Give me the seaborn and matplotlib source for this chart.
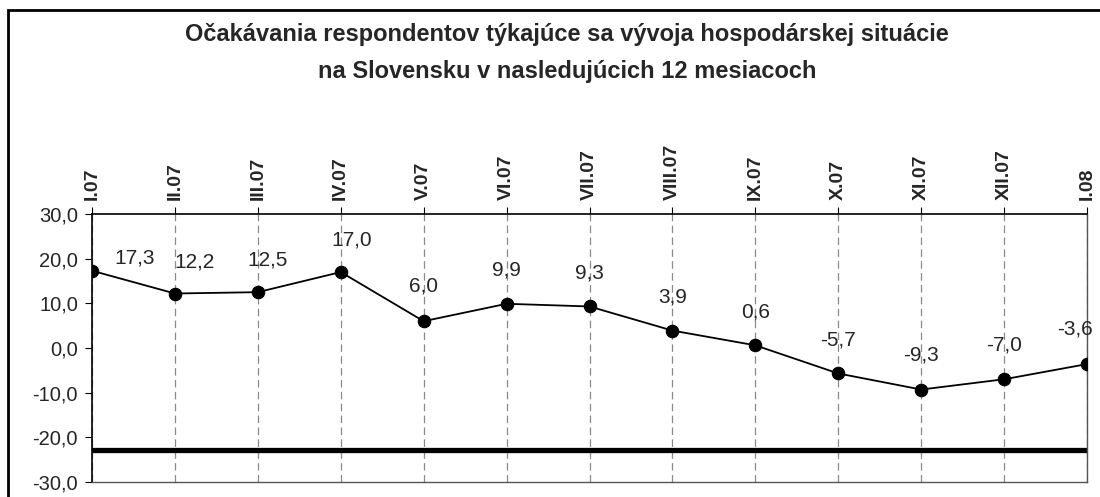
"""
Expectations of respondents about the economic situation in Slovakia
"""

import matplotlib.pyplot as plt
import numpy as np
import pandas as pd
import seaborn as sns
from matplotlib.patches import Rectangle

months = ["I.07", "II.07", "III.07", "IV.07", "V.07", "VI.07", "VII.07",
          "VIII.07", "IX.07", "X.07", "XI.07", "XII.07", "I.08"]
values = [17.3, 12.2, 12.5, 17.0, 6.0, 9.9, 9.3, 3.9, 0.6, -5.7, -9.3, -7.0, -3.6]
baseline = -22.8
y_ticks = [-30, -20, -10, 0, 10, 20, 30]
title = ("Očakávania respondentov týkajúce sa vývoja hospodárskej situácie\n"
         "na Slovensku v nasledujúcich 12 mesiacoch")

# nudges of the value labels (points)
label_dx = [31, 14, 7, 8, 0, 0, 0, 0, 0, 0, 0, 0, -9]
label_dy = [9, 23, 23, 23, 25, 24, 24, 24, 24, 24, 25, 25, 25]

sns.set_theme(style="white")
plt.rcParams["font.family"] = ["Liberation Sans", "DejaVu Sans"]

df = pd.DataFrame({"idx": np.arange(len(months)), "value": values})

fig = plt.figure(figsize=(11, 4.97), dpi=100)
ax = fig.add_axes([92 / 1100, 1 - 482 / 497, (1087 - 92) / 1100, (482 - 214) / 497])

for i in range(len(months)):
    ax.axvline(i, color="#8a8a8a", lw=0.9, ls=(0, (6, 3.5)), zorder=0)

sns.lineplot(data=df, x="idx", y="value", ax=ax, color="black", lw=1.3,
             marker="o", markersize=9, markeredgecolor="black", zorder=3)
ax.axhline(baseline, color="black", lw=3.8, zorder=2)

for i, v in enumerate(values):
    ax.annotate(f"{v:.1f}".replace(".", ","), (i, v), xytext=(label_dx[i], label_dy[i]),
                textcoords="offset points", ha="center", va="center", fontsize=15)

ax.set_xlim(0, len(months) - 1)
ax.set_ylim(-30, 30)
ax.set_yticks(y_ticks)
ax.set_yticklabels([f"{t:.1f}".replace(".", ",") for t in y_ticks], fontsize=14.5)
ax.set_xticks(range(len(months)))
ax.set_xticklabels(months, rotation=90, fontsize=14, fontweight="bold")
ax.xaxis.tick_top()
ax.tick_params(axis="both", direction="out", length=5, width=0.8, color="black", pad=5)
ax.tick_params(axis="x", bottom=False, top=True)
ax.tick_params(axis="y", left=True)
ax.set_xlabel("")
ax.set_ylabel("")

for side in ["left", "top"]:
    ax.spines[side].set_color("black")
    ax.spines[side].set_linewidth(1.2)
for side in ["right", "bottom"]:
    ax.spines[side].set_color("#555555")
    ax.spines[side].set_linewidth(1.0)

fig.text(567 / 1100, 1 - 53 / 497, title, ha="center", va="center",
         fontsize=17, fontweight="bold", linespacing=1.75)

fig.patches.append(Rectangle((8 / 1100, -0.1), 1.2, 1.1 - 10 / 497,
                             transform=fig.transFigure, fill=False,
                             edgecolor="black", lw=2))

plt.savefig("out.png", dpi=100)
